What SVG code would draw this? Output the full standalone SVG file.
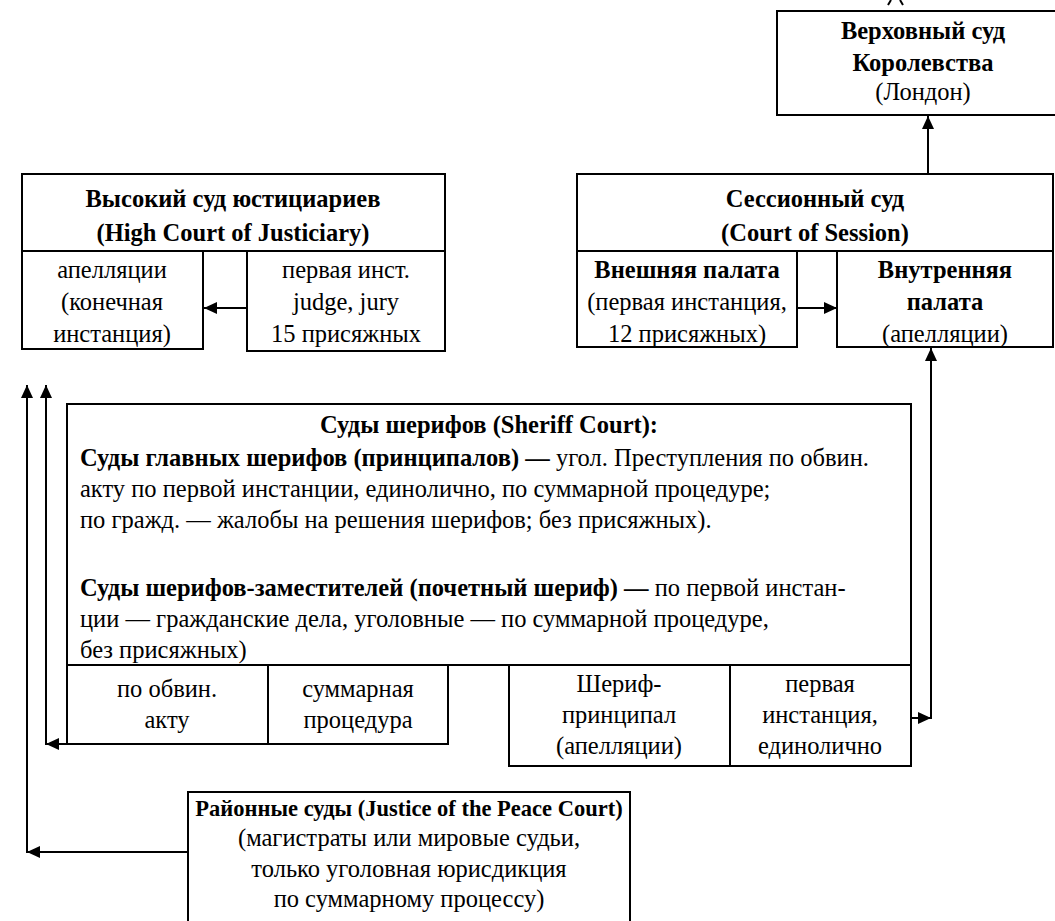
<svg xmlns="http://www.w3.org/2000/svg" width="1055" height="921" viewBox="0 0 1055 921" font-family="'Liberation Serif', 'Times New Roman', serif">
<style>
.box{fill:#fff;stroke:#000;stroke-width:2}
.ln{fill:none;stroke:#000;stroke-width:2}
text{font-family:'Liberation Serif','Times New Roman',serif;font-size:24.5px;fill:#000}
.c{text-anchor:middle}
.b{font-weight:bold}
.s{font-size:22.5px}
</style>
<defs>
<marker id="ah" markerUnits="userSpaceOnUse" markerWidth="14" markerHeight="12" refX="13" refY="6" orient="auto">
<path d="M0,0 L13,6 L0,12 Z" fill="#000"/>
</marker>
</defs>
<rect width="1055" height="921" fill="#fff"/>

<g id="connectors">
<path class="ln" d="M888,5 L891,0 M903,5 L900,0"/>
<line class="ln" x1="928" y1="174" x2="928" y2="116" marker-end="url(#ah)"/>
<line class="ln" x1="247" y1="308" x2="204" y2="308" marker-end="url(#ah)"/>
<line class="ln" x1="797" y1="308" x2="837" y2="308" marker-end="url(#ah)"/>
<line class="ln" x1="911" y1="718" x2="931" y2="718" marker-end="url(#ah)"/>
<line class="ln" x1="931" y1="719" x2="931" y2="348" marker-end="url(#ah)"/>
<line class="ln" x1="67" y1="744" x2="46" y2="744" marker-end="url(#ah)"/>
<line class="ln" x1="46" y1="745" x2="46" y2="385" marker-end="url(#ah)"/>
<line class="ln" x1="188" y1="852" x2="27" y2="852" marker-end="url(#ah)"/>
<line class="ln" x1="27" y1="853" x2="27" y2="385" marker-end="url(#ah)"/>
</g>

<g id="supreme">
<rect class="box" x="777" y="11" width="300" height="104"/>
<text class="c b" x="923" y="39">Верховный суд</text>
<text class="c b" x="923" y="71">Королевства</text>
<text class="c" x="923" y="100">(Лондон)</text>
</g>

<g id="high-court">
<rect class="box" x="22" y="174" width="423" height="77"/>
<text class="c b" x="233" y="207">Высокий суд юстициариев</text>
<text class="c b" x="233" y="241">(High Court of Justiciary)</text>
</g>
<g id="high-appeals">
<rect class="box" x="22" y="251" width="181" height="98"/>
<text class="c" x="112" y="278">апелляции</text>
<text class="c" x="112" y="310">(конечная</text>
<text class="c" x="112" y="342">инстанция)</text>
</g>
<g id="high-first">
<rect class="box" x="247" y="251" width="198" height="100"/>
<text class="c" x="346" y="278">первая инст.</text>
<text class="c" x="346" y="310">judge, jury</text>
<text class="c" x="346" y="342">15 присяжных</text>
</g>

<g id="session">
<rect class="box" x="577" y="174" width="476" height="77"/>
<text class="c b" x="815" y="207">Сессионный суд</text>
<text class="c b" x="815" y="241">(Court of Session)</text>
</g>
<g id="outer-house">
<rect class="box" x="577" y="251" width="220" height="96"/>
<text class="c b" x="687" y="278">Внешняя палата</text>
<text class="c" x="687" y="310">(первая инстанция,</text>
<text class="c" x="687" y="342">12 присяжных)</text>
</g>
<g id="inner-house">
<rect class="box" x="837" y="251" width="216" height="96"/>
<text class="c b" x="945" y="278">Внутренняя</text>
<text class="c b" x="945" y="310">палата</text>
<text class="c" x="945" y="342">(апелляции)</text>
</g>

<g id="sheriff">
<rect class="box" x="67" y="404" width="844" height="261"/>
<text class="c b" x="489" y="433">Суды шерифов (Sheriff Court):</text>
<text x="80" y="466"><tspan class="b">Суды главных шерифов (принципалов) —</tspan> угол. Преступления по обвин.</text>
<text x="80" y="497">акту по первой инстанции, единолично, по суммарной процедуре;</text>
<text x="80" y="528">по гражд. — жалобы на решения шерифов; без присяжных).</text>
<text x="80" y="596"><tspan class="b">Суды шерифов-заместителей (почетный шериф) —</tspan> по первой инстан-</text>
<text x="80" y="627">ции — гражданские дела, уголовные — по суммарной процедуре,</text>
<text x="80" y="658">без присяжных)</text>
</g>
<g id="sheriff-indict">
<rect class="box" x="67" y="665" width="201" height="79"/>
<text class="c" x="167" y="697">по обвин.</text>
<text class="c" x="167" y="728">акту</text>
</g>
<g id="sheriff-summary">
<rect class="box" x="268" y="665" width="180" height="79"/>
<text class="c" x="358" y="697">суммарная</text>
<text class="c" x="358" y="728">процедура</text>
</g>
<g id="sheriff-principal">
<rect class="box" x="509" y="665" width="221" height="101"/>
<text class="c" x="619" y="692">Шериф-</text>
<text class="c" x="619" y="723">принципал</text>
<text class="c" x="619" y="754">(апелляции)</text>
</g>
<g id="sheriff-first">
<rect class="box" x="730" y="665" width="181" height="101"/>
<text class="c" x="820" y="692">первая</text>
<text class="c" x="820" y="723">инстанция,</text>
<text class="c" x="820" y="754">единолично</text>
</g>

<g id="jp-court">
<rect class="box" x="188" y="792" width="442" height="140"/>
<text class="c b s" x="409" y="816">Районные суды (Justice of the Peace Court)</text>
<text class="c" x="409" y="846">(магистраты или мировые судьи,</text>
<text class="c" x="409" y="877">только уголовная юрисдикция</text>
<text class="c" x="409" y="907">по суммарному процессу)</text>
</g>
</svg>
